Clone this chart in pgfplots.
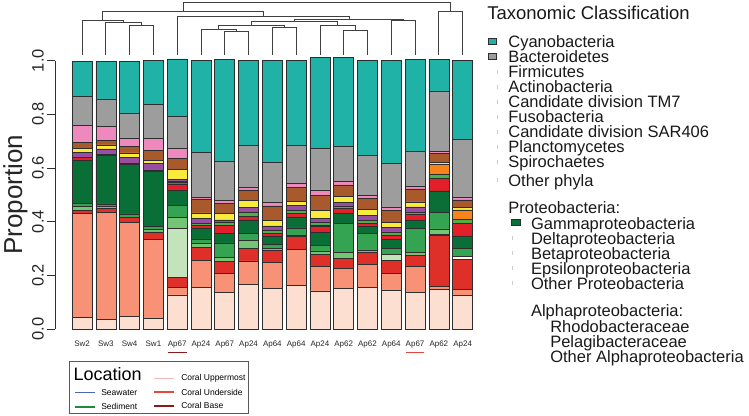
\documentclass[border=0pt]{standalone}
\usepackage{pgfplots}
\pgfplotsset{compat=1.18}
\usepackage{pgfplotstable}
\usepackage{fontspec}
\setmainfont{Liberation Sans}

\definecolor{cOA}{HTML}{FDDFD2}
\definecolor{cPel}{HTML}{F89276}
\definecolor{cRho}{HTML}{DE2F28}
\definecolor{cOP}{HTML}{F7FCF5}
\definecolor{cEps}{HTML}{C3E3BB}
\definecolor{cBeta}{HTML}{74C476}
\definecolor{cDelta}{HTML}{35A452}
\definecolor{cGamma}{HTML}{0A6E37}
\definecolor{cOPh}{HTML}{E3202A}
\definecolor{cSpi}{HTML}{377EB8}
\definecolor{cPla}{HTML}{4DAF4A}
\definecolor{cSAR}{HTML}{984EA3}
\definecolor{cFus}{HTML}{F7841A}
\definecolor{cTM}{HTML}{F8EB3B}
\definecolor{cAct}{HTML}{A85A2C}
\definecolor{cFir}{HTML}{EE89BD}
\definecolor{cBac}{HTML}{9D9D9D}
\definecolor{cCya}{HTML}{20B2A7}
\definecolor{cBorder}{HTML}{2E2E2E}
\definecolor{cSea}{HTML}{4F67B0}
\definecolor{cSed}{HTML}{1E8A3C}
\definecolor{cUpp}{HTML}{F4B8B8}
\definecolor{cUnd}{HTML}{E8453C}
\definecolor{cBase}{HTML}{8B1A1A}

\pgfplotstableread{
x  OA   Pel  Rho  OP   Eps  Beta Delta Gamma OPh  Spi  Pla  SAR  Fus  TM7  Act  Fir  Bac  Cya
1  .043 .388 .012 0    0    .015 .010 .161  .011 0    0    .019 0    .014 .021 .065 .107 .130
2  .036 .399 .015 0    0    .007 .009 .180  .005 0    0    .020 0    .015 .016 .052 .103 .140
3  .046 .352 .019 0    0    0    .012 .185  .005 0    0    .020 0    .017 .024 .032 .093 .193
4  .040 .294 .028 0    0    .010 .009 .205  .004 0    0    .027 0    .012 .035 .046 .127 .163
5  .127 .029 .037 0    .183 .040 .045 .055  .025 .006 .005 .006 0    .037 .040 .039 .118 .214
6  .154 .103 .047 0    0    .015 .016 .041  .009 0    .009 .019 0    .020 .052 .006 .168 .342
7  .137 .071 .043 0    0    .017 .053 .034  .031 0    .012 .009 0    .025 .035 .011 .148 .378
8  .166 .088 .046 0    0    .031 .026 .050  .012 0    .015 .019 0    .025 .040 .010 .155 .317
9  .152 .097 .043 0    0    .009 .015 .029  .012 0    .010 .017 0    .020 .055 .014 .149 .379
10 .164 .133 .047 0    0    .006 .027 .041  .012 0    .012 .019 0    .016 .050 .015 .143 .317
11 .142 .091 .046 0    0    .012 .022 .046  .022 .007 .009 .015 0    .031 .056 .019 .155 .338
12 .152 .075 .035 0    0    .025 .108 .037  .016 0    .009 .016 0    .021 .043 .012 .130 .333
13 .155 .086 .045 0    0    .009 .062 .025  .012 0    .012 .016 0    .025 .040 .012 .149 .354
14 .145 .062 .050 0    .022 0    .021 .035  .015 0    .012 .016 0    .019 .046 .012 .161 .385
15 .137 .096 .040 0    0    .014 .089 .031  .019 0    .010 .019 0    .019 .048 .010 .130 .342
16 .148 .010 .190 .006 0    .019 .062 .080  .045 0    .018 0    .034 .009 .032 .009 .224 .118
17 .124 .024 .113 .011 0    0    .029 .046  .047 0    .015 0    .035 .010 .027 .010 .217 .294
}\data

\newcommand{\dm}[5]{\draw (#1,#2) -- (#1,#5) -- (#3,#5) -- (#3,#4);}

\begin{document}
\begin{tikzpicture}
\begin{scope}[x=1pt,y=-1pt,shift={(-55pt,329.3pt)}]
\useasboundingbox (0,0) rectangle (749,416);
\end{scope}
\begin{axis}[
  x=23.8pt, y=268.7pt,
  xmin=-0.12, xmax=17.6, ymin=0, ymax=1,
  ybar stacked, bar width=20pt,
  clip=false,
  axis y line*=left, axis x line*=bottom,
  x axis line style={draw=none},
  y axis line style={cBorder, line width=0.8pt},
  xtick={1,...,17},
  xticklabels={Sw2,Sw3,Sw4,Sw1,Ap67,Ap24,Ap67,Ap24,Ap64,Ap64,Ap24,Ap62,Ap62,Ap64,Ap67,Ap62,Ap24},
  xtick style={draw=none},
  xticklabel style={font=\fontsize{8}{8}\selectfont, text=black!85, anchor=base, yshift=-9pt},
  ytick={0,0.2,0.4,0.6,0.8,1},
  tick align=outside, major tick length=8pt,
  ytick style={cBorder, line width=0.8pt},
  yticklabel style={font=\fontsize{16.5}{16.5}\selectfont, text=black!85, rotate=90, anchor=south,
     /pgf/number format/.cd, fixed, fixed zerofill, precision=1, assume math mode=true},
  ylabel={Proportion},
  ylabel style={font=\fontsize{26}{26}\selectfont, text=black!85, at={(axis description cs:-0.0949,0.5)}, anchor=center},
  every axis plot/.append style={draw=cBorder, line width=0.6pt},
]
\addplot[fill=cOA]    table[x=x,y=OA]{\data};
\addplot[fill=cPel]   table[x=x,y=Pel]{\data};
\addplot[fill=cRho]   table[x=x,y=Rho]{\data};
\addplot[fill=cOP]    table[x=x,y=OP]{\data};
\addplot[fill=cEps]   table[x=x,y=Eps]{\data};
\addplot[fill=cBeta]  table[x=x,y=Beta]{\data};
\addplot[fill=cDelta] table[x=x,y=Delta]{\data};
\addplot[fill=cGamma] table[x=x,y=Gamma]{\data};
\addplot[fill=cOPh]   table[x=x,y=OPh]{\data};
\addplot[fill=cSpi]   table[x=x,y=Spi]{\data};
\addplot[fill=cPla]   table[x=x,y=Pla]{\data};
\addplot[fill=cSAR]   table[x=x,y=SAR]{\data};
\addplot[fill=cFus]   table[x=x,y=Fus]{\data};
\addplot[fill=cTM]    table[x=x,y=TM7]{\data};
\addplot[fill=cAct]   table[x=x,y=Act]{\data};
\addplot[fill=cFir]   table[x=x,y=Fir]{\data};
\addplot[fill=cBac]   table[x=x,y=Bac]{\data};
\addplot[fill=cCya]   table[x=x,y=Cya]{\data};
\end{axis}

\begin{scope}[x=1pt,y=-1pt,shift={(-55pt,329.3pt)}]
% dendrogram
\begin{scope}[draw=black!75, line width=0.9pt]
\dm{129.3}{55}{153.1}{55}{25}
\dm{105.5}{55}{141.2}{25}{22.3}
\dm{81.7}{55}{123.35}{22.3}{20.7}
\dm{224.5}{55}{248.3}{55}{31.7}
\dm{200.7}{55}{236.4}{31.7}{29}
\dm{272.1}{55}{295.9}{55}{27.3}
\dm{218.55}{29}{284}{27.3}{25}
\dm{343.5}{55}{367.3}{55}{30}
\dm{319.7}{55}{355.4}{30}{25}
\dm{251.3}{25}{337.55}{25}{21.7}
\dm{391.1}{55}{414.9}{55}{20.7}
\dm{294.4}{21.7}{403}{20.7}{19}
\dm{176.9}{55}{348.7}{19}{16.3}
\dm{102.5}{20.7}{262.8}{16.3}{11.7}
\dm{438.7}{55}{462.5}{55}{11}
\dm{182.65}{11.7}{450.6}{11}{2.7}
\end{scope}
% underlines
\draw[cBase, line width=1.8pt] (167.7,352.7) -- (186.2,352.7);
\draw[cUnd, line width=1.8pt] (405.5,352.7) -- (424,352.7);

% taxonomic legend
\node[anchor=base west, inner sep=0, font=\fontsize{18.5}{18.5}\selectfont, text=black!90] at (487,20) {Taxonomic Classification};
\begin{scope}[font=\fontsize{16.5}{16.5}\selectfont, text=black!90]
\draw[fill=cCya, draw=cBorder, line width=0.6pt] (488,38) rectangle (496,44);
\draw[fill=cBac, draw=cBorder, line width=0.6pt] (488,53) rectangle (496,59);
\foreach \yy in {70,85,100,115,130,145,160,178} {\draw[black!20, line width=0.5pt] (497,\yy) -- (497,\yy+4);}
\node[anchor=base west, inner sep=0] at (508,47.3) {Cyanobacteria};
\node[anchor=base west, inner sep=0] at (508,62.4) {Bacteroidetes};
\node[anchor=base west, inner sep=0] at (508,77.5) {Firmicutes};
\node[anchor=base west, inner sep=0] at (508,92.6) {Actinobacteria};
\node[anchor=base west, inner sep=0] at (508,107.7) {Candidate division TM7};
\node[anchor=base west, inner sep=0] at (508,122.8) {Fusobacteria};
\node[anchor=base west, inner sep=0] at (508,137.9) {Candidate division SAR406};
\node[anchor=base west, inner sep=0] at (508,153.0) {Planctomycetes};
\node[anchor=base west, inner sep=0] at (508,168.1) {Spirochaetes};
\node[anchor=base west, inner sep=0] at (508,186.7) {Other phyla};
\node[anchor=base west, inner sep=0] at (508,213.3) {Proteobacteria:};
\draw[fill=cGamma, draw=cBorder, line width=0.6pt] (511,219.5) rectangle (520,225.5);
\foreach \yy in {236,251,266,281} {\draw[black!20, line width=0.5pt] (512,\yy) -- (512,\yy+4);}
\node[anchor=base west, inner sep=0] at (530.7,230) {Gammaproteobacteria};
\node[anchor=base west, inner sep=0] at (530.7,245) {Deltaproteobacteria};
\node[anchor=base west, inner sep=0] at (530.7,260) {Betaproteobacteria};
\node[anchor=base west, inner sep=0] at (530.7,275) {Epsilonproteobacteria};
\node[anchor=base west, inner sep=0] at (530.7,290) {Other Proteobacteria};
\node[anchor=base west, inner sep=0] at (530.7,316.7) {Alphaproteobacteria:};
\node[anchor=base west, inner sep=0] at (550,332.7) {Rhodobacteraceae};
\node[anchor=base west, inner sep=0] at (550,347.7) {Pelagibacteraceae};
\node[anchor=base west, inner sep=0] at (550,362.7) {Other Alphaproteobacteria};
\end{scope}

% location legend
\draw[black!65, line width=0.8pt, fill=white] (69,362) rectangle (248,414);
\node[anchor=base west, inner sep=0, font=\fontsize{18}{18}\selectfont] at (73,381) {Location};
\begin{scope}[line width=1.5pt]
\draw[cSea] (75,392.7) -- (94.3,392.7);
\draw[cSed] (75,407.3) -- (94.3,407.3);
\draw[cUpp] (154,378.7) -- (173.3,378.7);
\draw[cUnd] (154,392.3) -- (173.3,392.3);
\draw[cBase] (154,406) -- (173.3,406);
\end{scope}
\begin{scope}[font=\fontsize{8.5}{8.5}\selectfont]
\node[anchor=west, inner sep=0] at (100.7,392.7) {Seawater};
\node[anchor=west, inner sep=0] at (100.7,407) {Sediment};
\node[anchor=west, inner sep=0] at (180.7,378.7) {Coral Uppermost};
\node[anchor=west, inner sep=0] at (180.7,392.3) {Coral Underside};
\node[anchor=west, inner sep=0] at (180.7,406) {Coral Base};
\end{scope}
\end{scope}
\end{tikzpicture}
\end{document}
